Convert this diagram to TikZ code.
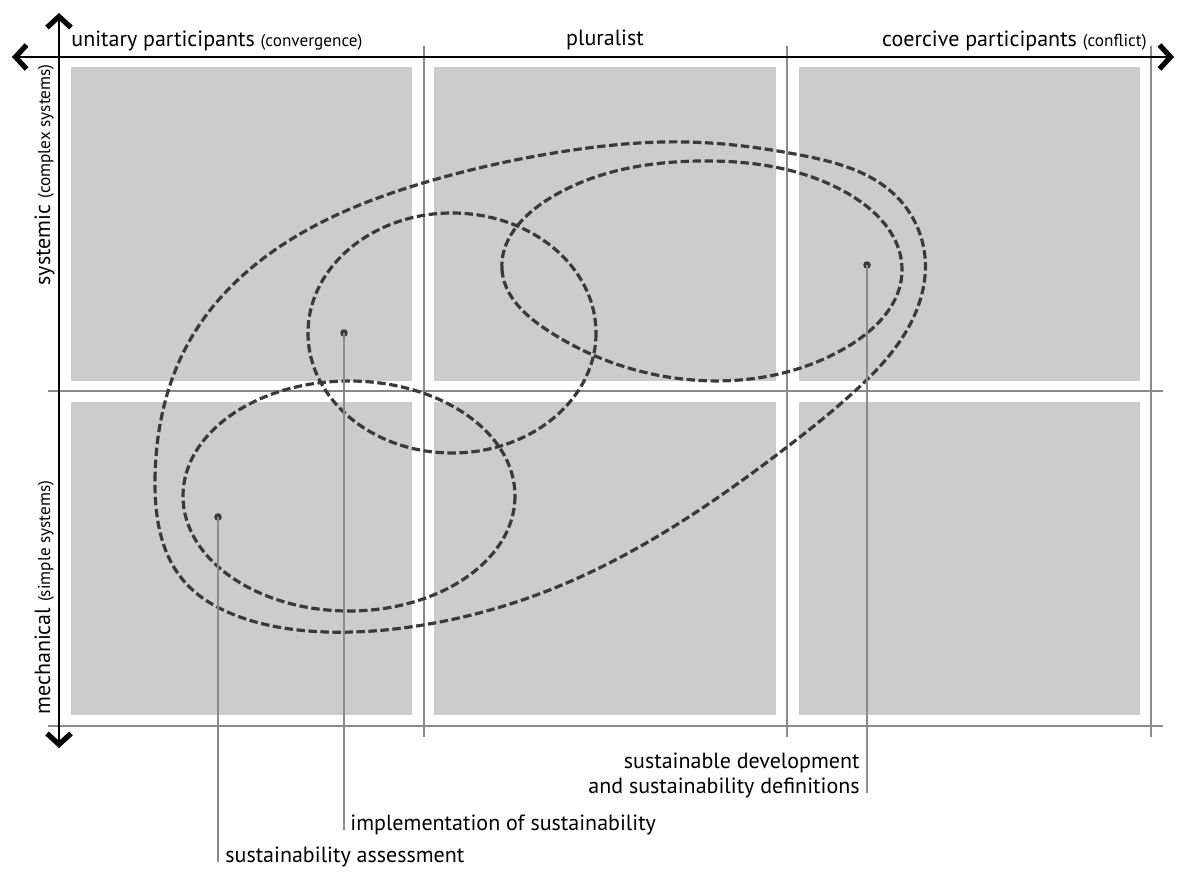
\documentclass[tikz,border=0pt]{standalone}
\usepackage{fontspec}
\setmainfont{PT Sans}
\usetikzlibrary{arrows.meta,hobby}
\definecolor{cellgray}{HTML}{CCCCCC}
\definecolor{gridgray}{HTML}{8A8A8A}
\definecolor{loopgray}{HTML}{3A3A3A}
\newcommand\smallnote[1]{{\fontsize{8.6pt}{10pt}\selectfont #1}}
\begin{document}
\begin{tikzpicture}[x=0.5pt,y=-0.5pt,
  cell/.style={fill=cellgray,draw=none},
  gridline/.style={draw=gridgray,line width=0.6pt},
  axis/.style={draw=black,line width=1.4pt,
    >={Straight Barb[length=5.5pt,width=12pt,line width=2.6pt]},<->},
  loop/.style={draw=loopgray,line width=1.6pt,dash pattern=on 4.2pt off 1.8pt},
  leader/.style={draw=gridgray,line width=0.6pt},
  dot/.style={circle,fill=loopgray,inner sep=0pt,minimum size=3.8pt},
  lbl/.style={inner sep=0pt,font=\fontsize{11pt}{13.5pt}\selectfont}]
\useasboundingbox (0,0) rectangle (1177,877);

% the six cells
\fill[cell] (71,67) rectangle (412,381);
\fill[cell] (434,67) rectangle (776,381);
\fill[cell] (799,67) rectangle (1140,381);
\fill[cell] (71,402) rectangle (412,715);
\fill[cell] (434,402) rectangle (776,715);
\fill[cell] (799,402) rectangle (1140,715);

% thin grid lines between the cells
\draw[gridline] (424,46) -- (424,737);
\draw[gridline] (787,46) -- (787,737);
\draw[gridline] (1151,46) -- (1151,737);
\draw[gridline] (48,391) -- (1163,391);
\draw[gridline] (48,726) -- (1163,726);

% the two axes
\coordinate (xl) at (12,57);
\coordinate (xr) at (1174,57);
\coordinate (yt) at (59,13);
\coordinate (yb) at (59,748);
\draw[axis] (xl) -- (xr);
\draw[axis] (yt) -- (yb);

% axis labels
\node[lbl,anchor=base west] (unitary) at (71,47) {unitary participants \smallnote{(convergence)}};
\node[lbl,anchor=base] (pluralist) at (605,46) {pluralist};
\node[lbl,anchor=base east] (coercive) at (1147,47) {coercive participants \smallnote{(conflict)}};
\node[lbl,rotate=90,anchor=base east] (systemic) at (50,64) {systemic \smallnote{(complex systems)}};
\node[lbl,rotate=90,anchor=base west] (mechanical) at (50,715) {mechanical \smallnote{(simple systems)}};

% sustainable development and definitions
\draw[loop,use Hobby shortcut,closed=true]
  (155,480) .. (190,340) .. (290,240) .. (423,183) .. (560,152) .. (687,142)
  .. (800,155) .. (897,197) .. (925,257) .. (907,330) .. (855,391)
  .. (787,447) .. (557,587) .. (423,625) .. (327,632) .. (240,617) .. (183,580);
\draw[loop,use Hobby shortcut,closed=true]
  (502,270) .. (547,200) .. (700,161) .. (847,193) .. (902,270)
  .. (847,347) .. (693,380) .. (547,330);
% implementation of sustainability
\draw[loop] (452,333) ellipse [x radius=144, y radius=120];
% sustainability assessment
\draw[loop] (349,496) ellipse [x radius=166, y radius=115];

% markers and their leader lines
\node[dot] (dA) at (218,517) {};
\node[dot] (dI) at (344,333) {};
\node[dot] (dD) at (867,265) {};

\node[lbl,anchor=base west] (lA) at (225,862) {sustainability assessment};
\node[lbl,anchor=base west] (lI) at (350,830) {implementation of sustainability};
\node[lbl,anchor=base east] (lD1) at (860,768) {sustainable development};
\node[lbl,anchor=base east] (lD2) at (860,793) {and sustainability definitions};

\draw[leader] (dA.center) -- (dA |- lA.base);
\draw[leader] (dI.center) -- (dI |- lI.base);
\draw[leader] (dD.center) -- (dD |- lD2.base);
\end{tikzpicture}
\end{document}
